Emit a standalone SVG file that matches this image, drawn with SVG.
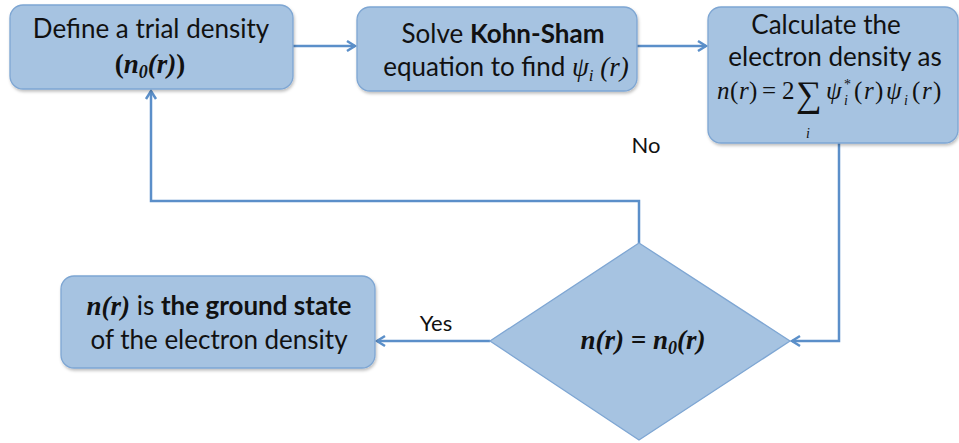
<svg xmlns="http://www.w3.org/2000/svg" width="959" height="443" viewBox="0 0 959 443">
<style>
.box{fill:#a6c3e1;stroke:#7ea6d3;stroke-width:1.3;filter:url(#sh)}
.t{font-family:Lato,"Liberation Sans",sans-serif;font-size:26px;fill:#111;text-anchor:middle}
.lbl{font-family:Lato,"Liberation Sans",sans-serif;font-size:22px;fill:#111;text-anchor:middle}
.m{font-family:"Liberation Serif","Times New Roman",serif;font-style:italic}
.mb{font-family:"Liberation Serif","Times New Roman",serif;font-style:italic;font-weight:bold}
.up{font-style:normal}
.b{font-weight:bold}
.conn{fill:none;stroke:#5b8fc9;stroke-width:2.5}
</style>
<defs>
<filter id="sh" x="-10%" y="-10%" width="130%" height="140%">
<feDropShadow dx="1" dy="2" stdDeviation="1.5" flood-color="#000" flood-opacity="0.25"/>
</filter>
<marker id="ah" markerWidth="14" markerHeight="14" refX="11" refY="7" orient="auto" markerUnits="userSpaceOnUse">
<path d="M3,2 L11,7 L3,12" fill="none" stroke="#5b8fc9" stroke-width="2.5"/>
</marker>
</defs>

<g id="connectors">
<path class="conn" d="M293,46 H355" marker-end="url(#ah)"/>
<path class="conn" d="M637,46 H706" marker-end="url(#ah)"/>
<path class="conn" d="M839,143 V341 H792" marker-end="url(#ah)"/>
<path class="conn" d="M639,243 V201 H151 V91" marker-end="url(#ah)"/>
<path class="conn" d="M490,341 H377" marker-end="url(#ah)"/>
<text class="lbl" x="646" y="153">No</text>
<text class="lbl" x="436" y="331">Yes</text>
</g>

<g id="node-trial">
<rect class="box" x="10" y="5" width="283" height="84" rx="13"/>
<text class="t" x="151" y="38">Define a trial density</text>
<text class="t" x="150" y="73" style="font-size:27px"><tspan class="mb up">(</tspan><tspan class="mb">n</tspan><tspan class="mb" font-size="18" dy="5">0</tspan><tspan class="mb" dy="-5">(r)</tspan><tspan class="mb up">)</tspan></text>
</g>

<g id="node-ks">
<rect class="box" x="357" y="7" width="280" height="84" rx="13"/>
<text class="t" x="503" y="43">Solve <tspan class="b">Kohn-Sham</tspan></text>
<text class="t" x="506" y="76">equation to find <tspan class="m" font-size="27">ψ</tspan><tspan class="m" font-size="17" dy="5">i</tspan><tspan class="m" font-size="27" dy="-5"> (r)</tspan></text>
</g>

<g id="node-density">
<rect class="box" x="708" y="7" width="250" height="136" rx="13"/>
<text class="t" x="826" y="34">Calculate the</text>
<text class="t" x="835" y="66">electron density as</text>
<text class="m" y="99" font-size="25" fill="#111"><tspan x="717">n</tspan><tspan class="up" x="730">(</tspan><tspan x="739">r</tspan><tspan class="up" x="749">)</tspan><tspan class="up" x="762">=</tspan><tspan class="up" x="782">2</tspan></text>
<text class="up" x="796" y="106" font-size="36" fill="#111" font-family="'Liberation Serif',serif">∑</text>
<text class="m" x="806" y="138" font-size="14" fill="#111">i</text>
<text class="m" y="99" font-size="25" fill="#111"><tspan x="826">ψ</tspan><tspan class="up" x="844" y="89" font-size="14">*</tspan><tspan x="844" y="105" font-size="14">i</tspan><tspan class="up" x="854" y="99">(</tspan><tspan x="864">r</tspan><tspan class="up" x="875">)</tspan><tspan x="886">ψ</tspan><tspan x="904" y="105" font-size="14">i</tspan><tspan class="up" x="912" y="99">(</tspan><tspan x="922">r</tspan><tspan class="up" x="933">)</tspan></text>
</g>

<g id="node-decision">
<polygon class="box" points="639,243 790,341 639,440 490,341" style="filter:none"/>
<text class="t" x="643" y="349" style="font-size:27px"><tspan class="mb">n(r) = n</tspan><tspan class="mb" font-size="18" dy="5">0</tspan><tspan class="mb" dy="-5">(r)</tspan></text>
</g>

<g id="node-ground">
<rect class="box" x="61" y="276" width="314" height="92" rx="13"/>
<text class="t" x="219" y="315"><tspan class="mb" font-size="27">n(r)</tspan> is <tspan class="b">the ground state</tspan></text>
<text class="t" x="219" y="349">of the electron density</text>
</g>
</svg>
